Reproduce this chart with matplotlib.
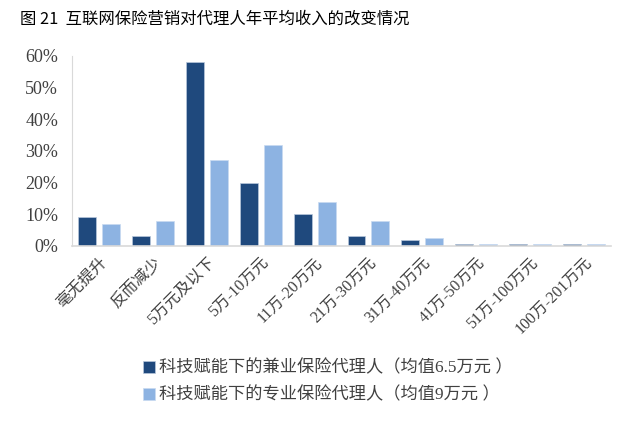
import matplotlib
matplotlib.use("Agg")
import matplotlib.pyplot as plt
import numpy as np

categories = ["毫无提升", "反而减少", "5万元及以下", "5万-10万元", "11万-20万元",
              "21万-30万元", "31万-40万元", "41万-50万元", "51万-100万元", "100万-201万元"]
part_time = [9, 3, 58, 20, 10, 3, 2, 0.5, 0.5, 0.5]
full_time = [7, 8, 27, 32, 14, 8, 2.5, 0.5, 0.5, 0.5]
series_names = ["科技赋能下的兼业保险代理人（均值6.5万元 ）",
                "科技赋能下的专业保险代理人（均值9万元 ）"]
yticks = [0, 10, 20, 30, 40, 50, 60]
title = "图 21  互联网保险营销对代理人年平均收入的改变情况"

FAM = ["Liberation Serif", "Noto Sans CJK SC"]
dark = "#1F497D"
light = "#8DB3E2"
txt = "#404040"

fig = plt.figure(figsize=(6.39, 4.21), dpi=100)
ax = fig.add_axes([0.1127, 0.4157, 0.8435, 0.4513])

x = np.arange(len(categories))
w = 0.333
ax.bar(x - 0.222, part_time, w, color=dark, edgecolor="#b8c8dc", linewidth=0.5, label=series_names[0])
ax.bar(x + 0.222, full_time, w, color=light, edgecolor="#c8daf0", linewidth=0.5, label=series_names[1])

ax.set_xlim(-0.5, len(categories) - 0.5)
ax.set_ylim(0, 60)
ax.set_yticks(yticks)
ax.set_yticklabels([f"{v}%" for v in yticks], family=FAM, fontsize=13, color=txt)
ax.tick_params(axis="y", length=0, pad=10)
ax.set_xticks(x)
ax.set_xticklabels(categories, rotation=45, ha="right", rotation_mode="anchor",
                   family=FAM, fontsize=11.5, color=txt)
ax.tick_params(axis="x", length=0, pad=6)
for s in ["top", "right"]:
    ax.spines[s].set_visible(False)
ax.spines["left"].set_color("#d9d9d9")
ax.spines["bottom"].set_color("#d9d9d9")
ax.spines["bottom"].set_linewidth(1.2)

fig.text(0.032, 0.955, title, family=["Noto Sans CJK SC"], fontsize=11.8, color="#000000",
         ha="left", va="center")

leg = fig.legend(loc="upper left", bbox_to_anchor=(0.21, 0.165), frameon=False,
                 prop={"family": FAM, "size": 12.4}, handlelength=0.7, handleheight=0.7,
                 handletextpad=0.25, labelspacing=0.6, borderpad=0)
for t in leg.get_texts():
    t.set_color(txt)

fig.savefig("out.png", dpi=100)
